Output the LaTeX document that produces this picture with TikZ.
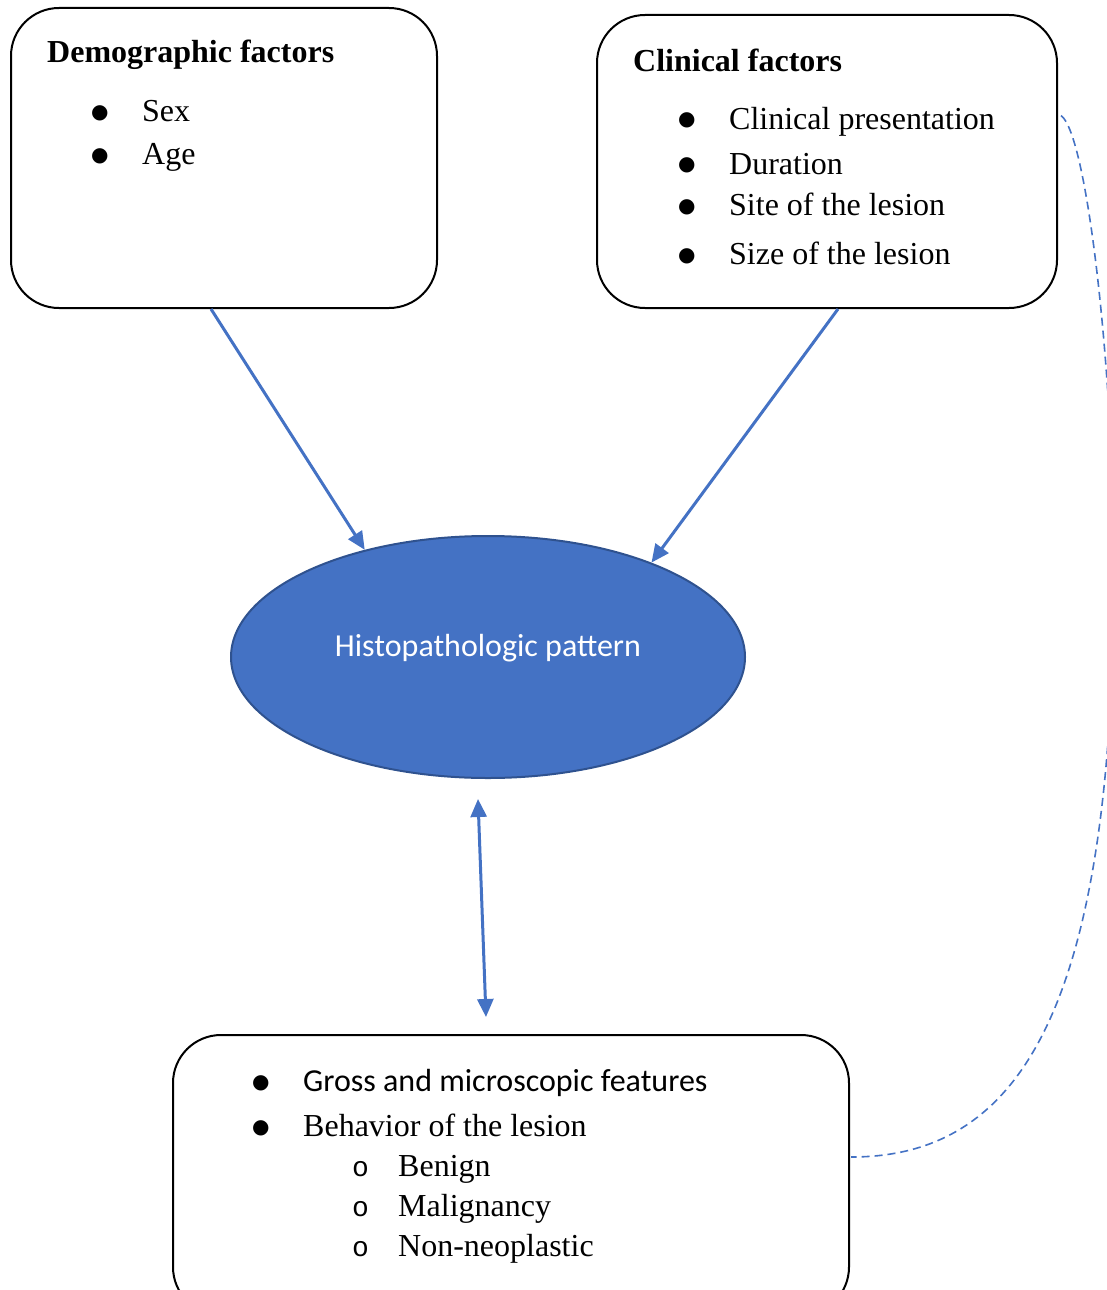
\documentclass[tikz,border=0pt]{standalone}
\usepackage{fontspec}
\setmainfont{Liberation Serif}
\newfontfamily\calibri{Carlito}
\newfontfamily\courier{Liberation Mono}
\newfontfamily\symb{DejaVu Sans}
\usetikzlibrary{arrows.meta,positioning,shapes.geometric,calc}
\definecolor{wordblue}{HTML}{4472C4}
\definecolor{wordedge}{HTML}{2F528F}
\tikzset{
 factorbox/.style={draw,line width=2pt,rounded corners=48pt,inner sep=0pt},
 listtext/.style={anchor=base west,inner sep=0pt,font=\fontsize{32}{43}\selectfont},
 arrow/.style={-{Triangle[length=18pt,width=16pt]},wordblue,line width=3pt},
 twoarrow/.style={{Triangle[length=18pt,width=16pt]}-{Triangle[length=18pt,width=16pt]},wordblue,line width=3pt},
 dashlink/.style={wordblue,line width=1.6pt,dash pattern=on 8pt off 5pt}
}
\newcommand{\bulglyph}{\hspace{-4pt}\raisebox{3.5pt}{\symb\fontsize{20}{20}\selectfont ●}}
\newcommand{\itm}[1]{\makebox[47pt][l]{\bulglyph}#1}
\newcommand{\subitm}[1]{\makebox[46pt][l]{\fontsize{28}{28}\selectfont\courier o}#1}

\begin{document}
\begin{tikzpicture}[x=1pt,y=-1pt]
\clip (0,0) rectangle (1107,1290);
% boxes
\node[factorbox,minimum width=426pt,minimum height=300pt] (demog) at (224,158) {};
\node[factorbox,minimum width=460pt,minimum height=293pt] (clinic) at (827,161.5) {};
\node[factorbox,minimum width=676pt,minimum height=280pt] (findings) at (511,1175) {};
\node[ellipse,draw=wordedge,fill=wordblue,line width=2pt,minimum width=514pt,
      minimum height=242pt,inner sep=0pt,text=white,
      font=\calibri\fontsize{32}{38}\selectfont,text height=21pt,text depth=23pt]
      (histo) at (488,657) {Histopathologic pattern};

% box contents
\node[listtext] (demoglist) at (47,63) {\begin{tabular}[t]{@{}l@{}}
  \textbf{Demographic factors}\\[16pt]
  \hspace{48pt}\itm{Sex}\\
  \hspace{48pt}\itm{Age}
\end{tabular}};
\node[listtext] (cliniclist) at (633,71.5) {\begin{tabular}[t]{@{}l@{}}
  \textbf{Clinical factors}\\[15pt]
  \hspace{49pt}\itm{Clinical presentation}\\[2pt]
  \hspace{49pt}\itm{Duration}\\[-2pt]
  \hspace{49pt}\itm{Site of the lesion}\\[6pt]
  \hspace{49pt}\itm{Size of the lesion}
\end{tabular}};
\node[listtext,font=\fontsize{32}{40}\selectfont] (findingslist) at (256,1091.5) {\begin{tabular}[t]{@{}l@{}}
  \itm{\calibri Gross and microscopic features}\\[5pt]
  \itm{Behavior of the lesion}\\
  \hspace{96pt}\subitm{Benign}\\
  \hspace{96pt}\subitm{Malignancy}\\
  \hspace{96pt}\subitm{Non-neoplastic}
\end{tabular}};

% connectors
\draw[arrow] ([xshift=-13pt]demog.south) -- (histo.139);
\draw[arrow] ([xshift=11pt]clinic.south) -- (histo.30);
\draw[twoarrow] ([xshift=-10pt,yshift=-20pt]histo.south) -- ([xshift=-25pt,yshift=17pt]findings.north);
\draw[dashlink] ($(clinic.east)+(3,-46)$) .. controls (1088,135) and (1114,380) .. (1114,565)
  .. controls (1114,1010) and (1020,1157) .. ($(findings.east)+(1,-18)$);
\end{tikzpicture}
\end{document}
